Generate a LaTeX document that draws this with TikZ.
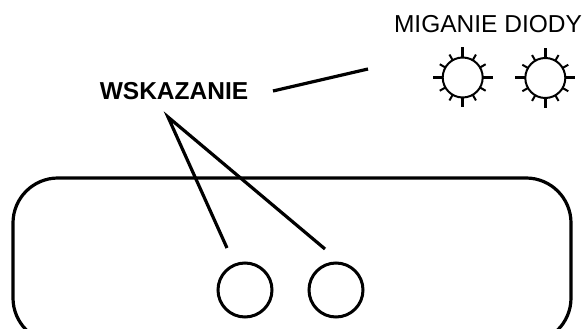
\documentclass[tikz,border=0pt]{standalone}
\usepackage{fontspec}
\setmainfont{Liberation Sans}
\usetikzlibrary{positioning}

\begin{document}
\begin{tikzpicture}[x=1pt,y=1pt,
	napis/.style={
		anchor=base,
		inner sep=0pt,
		font=\fontsize{24.5}{28}\selectfont
	},
	lampka/.style={
		draw,
		circle,
		line width=3pt,
		minimum size=54pt,
		inner sep=0pt
	},
	dioda/.style={
		draw,
		circle,
		line width=2pt,
		minimum size=40pt,
		inner sep=0pt
	},
	linia/.style={line width=3.2pt}
	]
	\useasboundingbox (0,0) rectangle (586,329);
	\clip (0,0) rectangle (586,329);
	% obudowa
	\draw[line width=3.2pt,rounded corners=45pt] (13,-14) rectangle (571,151);
	\node[lampka] (lampkaA) at (245,39) {};
	\node[lampka] (lampkaB) at (336,39) {};
	% napisy
	\node[napis] (wsk) at (174,229) {\textbf{WSKAZANIE}};
	\node[napis] (mig) at (488,296) {MIGANIE DIODY};
	% diody
	\node[dioda] (diodaA) at (462.7,251.5) {};
	\node[dioda] (diodaB) at (545.3,251) {};
	\foreach \d in {diodaA,diodaB}{
		\foreach \a in {0,90,180,270}
			\draw[line width=3pt,shift={(\d)}] (\a:20) -- (\a:30);
		\foreach \a in {30,60,120,150,210,240,300,330}
			\draw[line width=2pt,shift={(\d)}] (\a:20) -- (\a:26.5);
	}
	% odnosniki
	\coordinate (wskA) at (273,238);
	\coordinate (wskB) at (368,260);
	\coordinate (wskC) at (168,212);
	\coordinate (lampA) at (227,81);
	\coordinate (lampB) at (325,80);
	\draw[linia] (wskA) -- (wskB);
	\draw[linia] (lampA) -- (wskC) -- (lampB);
\end{tikzpicture}
\end{document}
